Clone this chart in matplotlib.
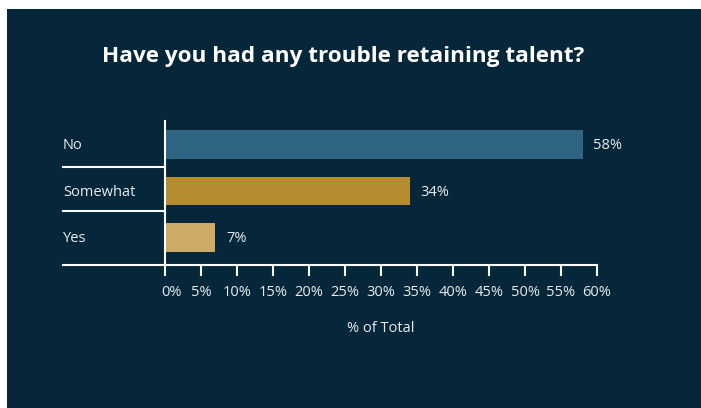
import matplotlib.pyplot as plt
from matplotlib.patches import Rectangle
from matplotlib.transforms import ScaledTranslation

categories = ["No", "Somewhat", "Yes"]
values = [58, 34, 7]
value_labels = ["58%", "34%", "7%"]
colors = ["#2F6483", "#B68C31", "#CFAA66"]
ticks = list(range(0, 61, 5))
tick_labels = [f"{t}%" for t in ticks]

bg = "#052739"
fg = "#E8ECEE"
plt.rcParams['font.family'] = ['Open Sans', 'DejaVu Sans']

W, H = 701, 408
fig = plt.figure(figsize=(W / 100, H / 100), dpi=100, facecolor="white")
fig.patches.append(Rectangle((7 / W, 0), (W - 7) / W, (H - 9) / H,
                             transform=fig.transFigure, facecolor=bg,
                             edgecolor="none", zorder=-5))

# axes placed in pixel coords of the reference
left, right, top, bottom = 165, 597, 120.7, 265.3
ax = fig.add_axes([left / W, 1 - bottom / H, (right - left) / W, (bottom - top) / H])
ax.set_facecolor("none")
ax.set_zorder(2)

y = list(range(len(categories)))
ax.barh(y, values, height=0.62, color=colors)
ax.set_xlim(0, 60)
ax.set_ylim(2.598, -0.512)

fs = 10.5
for yi, v, lab in zip(y, values, value_labels):
    ax.annotate(lab, (v, yi), xytext=(7.6, -0.8), textcoords="offset points",
                va="center", ha="left", color=fg, fontsize=fs)

# category labels on the left
for yi, c in zip(y, categories):
    ax.annotate(c, (-0.236, yi), xycoords=ax.get_yaxis_transform(),
                xytext=(0, -0.8), textcoords="offset points", ha="left",
                va="center", color=fg, fontsize=fs, annotation_clip=False)

ax.set_yticks([])
ax.set_xticks(ticks)
ax.set_xticklabels(tick_labels)
ax.tick_params(axis="x", colors="white", length=8, width=1.5, pad=6.5,
               labelcolor=fg, labelsize=fs)
lbls = ax.get_xticklabels()
lbls[0].set_transform(lbls[0].get_transform() + ScaledTranslation(6 / 100, 0, fig.dpi_scale_trans))

for s in ["top", "right", "bottom"]:
    ax.spines[s].set_visible(False)
ax.spines["left"].set_color("white")
ax.spines["left"].set_linewidth(1.5)

# row separators and bottom rule extending under the labels
for ys in [0.49, 1.44]:
    ax.axhline(ys, xmin=-0.236, xmax=0, color="white", lw=1.5, clip_on=False)
ax.axhline(2.598, xmin=-0.236, xmax=1, color="white", lw=1.5, clip_on=False)

ax.set_xlabel("% of Total", color=fg, fontsize=fs, labelpad=15)

fig.text(343 / W, 1 - 56.5 / H, "Have you had any trouble retaining talent?",
         ha="center", va="center", color="white", fontsize=16.2, fontweight="bold")

fig.savefig("out.png", dpi=100, facecolor="white")
